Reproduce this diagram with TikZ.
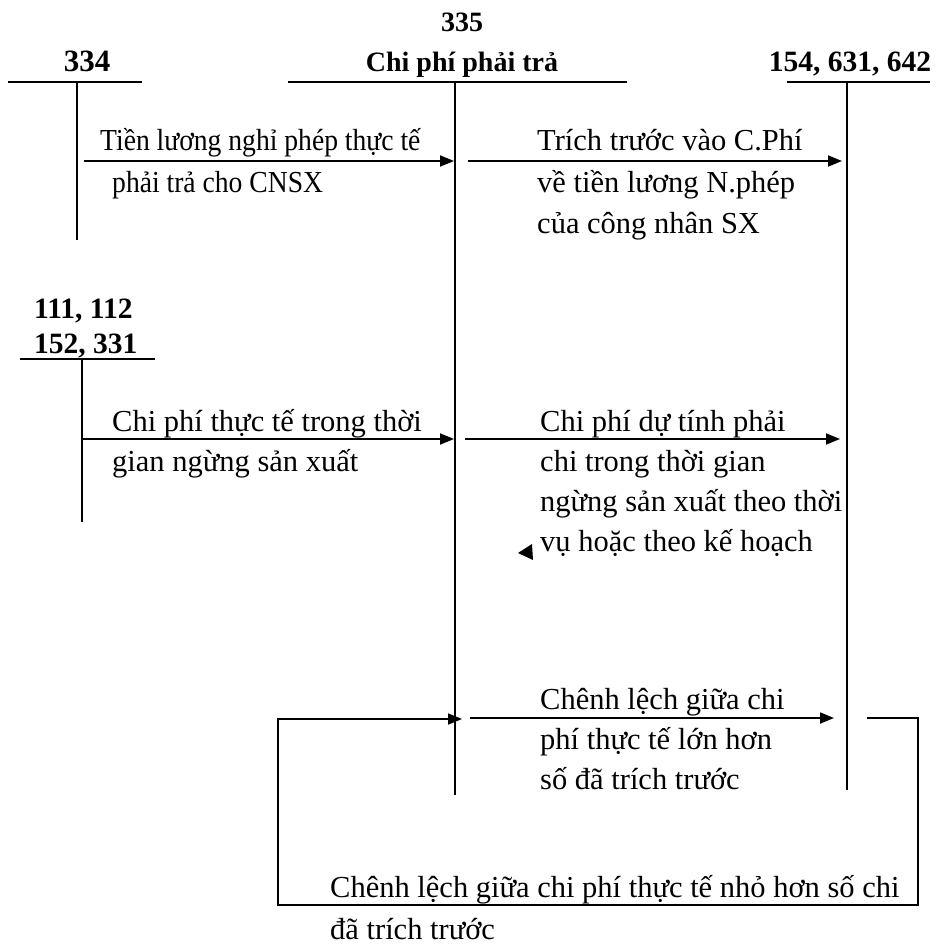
\documentclass[tikz,border=0pt]{standalone}
\usepackage{fontspec}
\usepackage{graphicx}
\setmainfont{Liberation Serif}
\usetikzlibrary{arrows.meta}

\tikzset{
  acct/.style={font=\fontsize{28}{32}\selectfont\bfseries, inner sep=0pt, anchor=base},
  txt/.style={font=\fontsize{30.5}{40}\selectfont, inner sep=0pt, anchor=base west},
  tline/.style={line width=2.6pt},
  vline/.style={line width=1.8pt},
  flow/.style={line width=1.8pt, -{Triangle[length=14pt,width=11pt]}},
  plain/.style={line width=1.8pt}
}
% narrower setting of the first label block
\newcommand{\narrowtext}[1]{\scalebox{0.905}[1]{#1}}

\begin{document}
\begin{tikzpicture}[x=1pt,y=-1pt]
\useasboundingbox (0,0) rectangle (939,952);

% --- account headings
\node[acct] (h335) at (462,32) {335};
\node[acct] (n335) at (462,72) {Chi phí phải trả};
\node[acct, font=\fontsize{31}{32}\selectfont\bfseries] (n334) at (87,72) {334};
\node[acct, font=\fontsize{29.5}{32}\selectfont\bfseries] (n154) at (850,72) {154, 631, 642};
\node[acct, anchor=base west, font=\fontsize{29.5}{32}\selectfont\bfseries] (n111) at (34,318) {111, 112};
\node[acct, anchor=base west, font=\fontsize{29.5}{32}\selectfont\bfseries] (n152) at (34,353) {152, 331};

% --- T-account bars and stems
\coordinate (a335l) at (288,82);  \coordinate (a335r) at (627,82);
\coordinate (a335t) at (455,82);  \coordinate (a335b) at (455,795);
\coordinate (a334l) at (8,82);    \coordinate (a334r) at (142,82);
\coordinate (a334t) at (77,82);   \coordinate (a334b) at (77,240);
\coordinate (a154l) at (787,82);  \coordinate (a154r) at (930,82);
\coordinate (a154t) at (847,82);  \coordinate (a154b) at (847,790);
\coordinate (a111l) at (20,359);  \coordinate (a111r) at (155,359);
\coordinate (a111t) at (82,359);  \coordinate (a111b) at (82,522);

\draw[tline] (a335l) -- (a335r);
\draw[vline] (a335t) -- (a335b);
\draw[tline] (a334l) -- (a334r);
\draw[vline] (a334t) -- (a334b);
\draw[tline] (a154l) -- (a154r);
\draw[vline] (a154t) -- (a154b);
\draw[tline] (a111l) -- (a111r);
\draw[vline] (a111t) -- (a111b);

% --- flow endpoints
\coordinate (f1s) at (84,161);   \coordinate (f1e) at (454,161);
\coordinate (f2s) at (468,161);  \coordinate (f2e) at (842,161);
\coordinate (f3s) at (82,439);   \coordinate (f3e) at (454,439);
\coordinate (f4s) at (465,439);  \coordinate (f4e) at (840,439);
\coordinate (f5s) at (470,718);  \coordinate (f5e) at (834,718);
\coordinate (l1) at (278,719);   \coordinate (l1e) at (462,719);
\coordinate (l2) at (278,905);   \coordinate (l3) at (918,905);
\coordinate (l4) at (918,718);   \coordinate (l5) at (867,718);

\draw[flow] (f1s) -- (f1e);
\draw[flow] (f2s) -- (f2e);
\draw[flow] (f3s) -- (f3e);
\draw[flow] (f4s) -- (f4e);
\draw[flow] (f5s) -- (f5e);
\draw[flow] (l5) -- (l4) -- (l3) -- (l2) -- (l1) -- (l1e);

% small stray arrow tip
\fill (518,553) -- (532,544) -- (533,560) -- cycle;

% --- labels
\node[txt] (t1a) at (100,151) {\narrowtext{Tiền lương nghỉ phép thực tế}};
\node[txt] (t1b) at (112,193) {\narrowtext{phải trả cho CNSX}};

\node[txt] (t2a) at (537,151) {Trích trước vào C.Phí};
\node[txt] (t2b) at (537,193) {về tiền lương N.phép};
\node[txt] (t2c) at (537,233) {của công nhân SX};

\node[txt] (t3a) at (112,431) {Chi phí thực tế trong thời};
\node[txt] (t3b) at (112,471) {gian ngừng sản xuất};

\node[txt] (t4a) at (540,431) {Chi phí dự tính phải};
\node[txt] (t4b) at (540,471) {chi trong thời gian};
\node[txt] (t4c) at (540,511) {ngừng sản xuất theo thời};
\node[txt] (t4d) at (540,551) {vụ hoặc theo kế hoạch};

\node[txt] (t5a) at (540,709) {Chênh lệch giữa chi};
\node[txt] (t5b) at (540,749) {phí thực tế lớn hơn};
\node[txt] (t5c) at (540,789) {số đã trích trước};

\node[txt] (t6a) at (330,897) {Chênh lệch giữa chi phí thực tế nhỏ hơn số chi};
\node[txt] (t6b) at (330,939) {đã trích trước};
\end{tikzpicture}
\end{document}
